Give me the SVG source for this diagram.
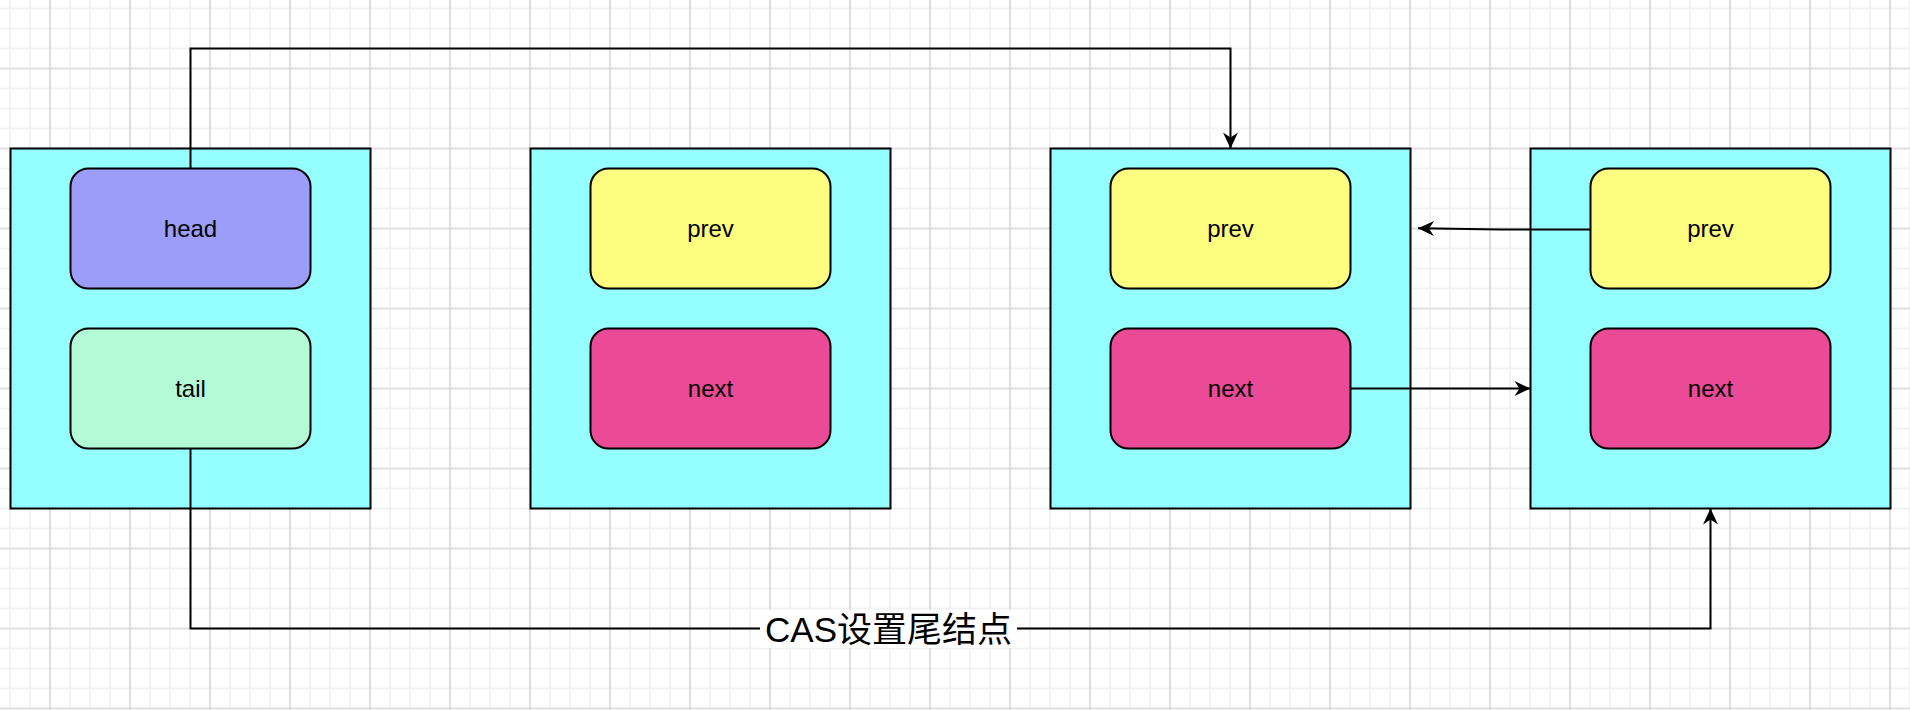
<svg xmlns="http://www.w3.org/2000/svg" width="1910" height="710" viewBox="0 0 1910 710">
<defs>
<pattern id="grid" x="0" y="-1.5" width="80" height="80" patternUnits="userSpaceOnUse">
<rect width="80" height="80" fill="#ffffff"/>
<g stroke="#f2f2f2" stroke-width="2">
<line x1="10" y1="0" x2="10" y2="80"/><line x1="30" y1="0" x2="30" y2="80"/><line x1="50" y1="0" x2="50" y2="80"/><line x1="70" y1="0" x2="70" y2="80"/>
<line x1="0" y1="10" x2="80" y2="10"/><line x1="0" y1="30" x2="80" y2="30"/><line x1="0" y1="50" x2="80" y2="50"/><line x1="0" y1="70" x2="80" y2="70"/>
</g>
<g stroke="#cccccc" stroke-width="1">
<line x1="50" y1="0" x2="50" y2="80"/><line x1="0" y1="70" x2="80" y2="70"/>
</g>
</pattern>
<marker id="arrow" viewBox="-18 -10 20 20" refX="0" refY="0" markerWidth="20" markerHeight="20" markerUnits="userSpaceOnUse" orient="auto">
<path d="M0,0 L-16,-7.5 L-11,0 L-16,7.5 Z" fill="#000000"/>
</marker>
<style>
.container{fill:#95fefe;stroke:#000;stroke-width:2}
.field{stroke:#000;stroke-width:2}
.head{fill:#9b9df9}
.tail{fill:#b3fbd6}
.prev{fill:#fdfd80}
.next{fill:#eb4b96}
.lbl{font-family:"Liberation Sans",Arial,sans-serif;font-size:24px;fill:#000;text-anchor:middle}
.conn{fill:none;stroke:#000;stroke-width:2}
.edge-label{font-family:"Liberation Sans","Noto Sans CJK SC",sans-serif;font-size:35px;fill:#000;text-anchor:middle}
</style>
</defs>
<rect width="1910" height="710" fill="url(#grid)"/>

<g id="node1">
<rect class="container" x="10.5" y="148.5" width="360" height="360"/>
<rect class="field head" x="70.5" y="168.5" width="240" height="120" rx="18" ry="18"/>
<text class="lbl" x="190.5" y="237">head</text>
<rect class="field tail" x="70.5" y="328.5" width="240" height="120" rx="18" ry="18"/>
<text class="lbl" x="190.5" y="397">tail</text>
</g>

<g id="node2">
<rect class="container" x="530.5" y="148.5" width="360" height="360"/>
<rect class="field prev" x="590.5" y="168.5" width="240" height="120" rx="18" ry="18"/>
<text class="lbl" x="710.5" y="237">prev</text>
<rect class="field next" x="590.5" y="328.5" width="240" height="120" rx="18" ry="18"/>
<text class="lbl" x="710.5" y="397">next</text>
</g>

<g id="node3">
<rect class="container" x="1050.5" y="148.5" width="360" height="360"/>
<rect class="field prev" x="1110.5" y="168.5" width="240" height="120" rx="18" ry="18"/>
<text class="lbl" x="1230.5" y="237">prev</text>
<rect class="field next" x="1110.5" y="328.5" width="240" height="120" rx="18" ry="18"/>
<text class="lbl" x="1230.5" y="397">next</text>
</g>

<g id="node4">
<rect class="container" x="1530.5" y="148.5" width="360" height="360"/>
<rect class="field prev" x="1590.5" y="168.5" width="240" height="120" rx="18" ry="18"/>
<text class="lbl" x="1710.5" y="237">prev</text>
<rect class="field next" x="1590.5" y="328.5" width="240" height="120" rx="18" ry="18"/>
<text class="lbl" x="1710.5" y="397">next</text>
</g>

<g id="connectors">
<path class="conn" d="M190.5 168.5 V48.5 H1230.5 V148.5" marker-end="url(#arrow)"/>
<path class="conn" d="M1590.5 229.5 L1500 229.5 L1418 228.3" marker-end="url(#arrow)"/>
<path class="conn" d="M1350.5 388.5 H1530.5" marker-end="url(#arrow)"/>
<path class="conn" d="M190.5 448.5 V628.5 H1710.5 V508.5" marker-end="url(#arrow)"/>
<rect x="760" y="610" width="257" height="38" fill="#ffffff"/>
<text class="edge-label" x="888.5" y="642">CAS设置尾结点</text>
</g>
</svg>
